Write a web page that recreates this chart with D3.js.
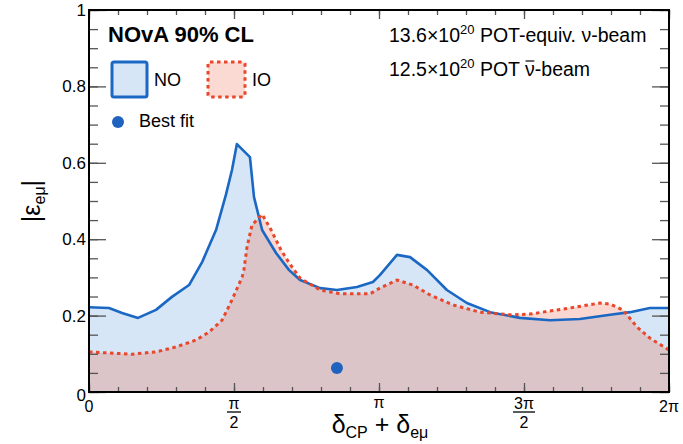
<!DOCTYPE html>
<html lang="en">
<head>
<meta charset="UTF-8">
<title>NOvA epsilon e-mu</title>
<style>
  body { margin: 0; background: #fff; }
  svg { font-family: "Liberation Sans", Arial, sans-serif; }
</style>
</head>
<body>
<svg width="683" height="444"></svg>
<script src="https://cdn.jsdelivr.net/npm/d3@7"></script>
<script>
    // x values are in units of pi
    const noX = [0, 0.069, 0.114, 0.169, 0.231, 0.286, 0.345, 0.390, 0.438, 0.472, 0.493, 0.510, 0.555, 0.569, 0.597, 0.645, 0.690, 0.728, 0.797, 0.855, 0.924, 0.979, 1.003, 1.062, 1.107, 1.166, 1.234, 1.303, 1.383, 1.486, 1.590, 1.693, 1.797, 1.866, 1.934, 2.0];
    const noY = [0.222, 0.220, 0.207, 0.194, 0.215, 0.249, 0.280, 0.340, 0.424, 0.516, 0.581, 0.649, 0.615, 0.510, 0.424, 0.364, 0.319, 0.293, 0.272, 0.267, 0.275, 0.288, 0.306, 0.359, 0.353, 0.319, 0.267, 0.233, 0.209, 0.194, 0.188, 0.191, 0.202, 0.209, 0.220, 0.220];

    const ioX = [0, 0.148, 0.231, 0.300, 0.369, 0.414, 0.459, 0.493, 0.528, 0.534, 0.545, 0.562, 0.597, 0.628, 0.662, 0.690, 0.728, 0.797, 0.866, 0.969, 1.003, 1.062, 1.117, 1.176, 1.255, 1.348, 1.452, 1.521, 1.659, 1.762, 1.797, 1.841, 1.890, 1.934, 2.0];
    const ioY = [0.105, 0.099, 0.105, 0.118, 0.136, 0.157, 0.188, 0.241, 0.301, 0.319, 0.380, 0.437, 0.465, 0.424, 0.372, 0.338, 0.298, 0.267, 0.257, 0.257, 0.272, 0.293, 0.280, 0.254, 0.228, 0.209, 0.202, 0.204, 0.220, 0.233, 0.230, 0.215, 0.170, 0.141, 0.110];

    const bestFit = [0.855, 0.063];

    const yLabels = [0, 0.2, 0.4, 0.6, 0.8, 1];
    const xLabels = [
        {v: 0, num: "0"},
        {v: 0.5, num: "\u03c0", den: "2"},
        {v: 1, num: "\u03c0"},
        {v: 1.5, num: "3\u03c0", den: "2"},
        {v: 2, num: "2\u03c0"}
    ];

    const blue = "#1b68c4", red = "#e8472b";

    const svg = d3.select("svg");
    const x = d3.scaleLinear().domain([0, 2]).range([89, 669]);
    const y = d3.scaleLinear().domain([0, 1]).range([392, 10]);

    const area = d3.area().x(d => x(d[0])).y0(y(0)).y1(d => y(d[1]));
    const line = d3.line().x(d => x(d[0])).y(d => y(d[1]));
    const no = d3.zip(noX, noY), io = d3.zip(ioX, ioY);

    svg.append("path").attr("d", area(no)).attr("fill", "#d6e6f6");
    svg.append("path").attr("d", area(io)).attr("fill", "rgba(236,108,82,0.27)");
    svg.append("path").attr("d", line(no)).attr("fill", "none")
        .attr("stroke", blue).attr("stroke-width", 2.6).attr("stroke-linejoin", "round");
    svg.append("path").attr("d", line(io)).attr("fill", "none")
        .attr("stroke", red).attr("stroke-width", 3).attr("stroke-dasharray", "3.5,3.5");

    svg.append("circle").attr("cx", x(bestFit[0])).attr("cy", y(bestFit[1]))
        .attr("r", 6).attr("fill", "#1f63bf");

    // ticks on all four sides
    const tickCol = "#555";
    const minorX = d3.range(0, 2.001, 0.1), majorX = d3.range(0, 2.001, 0.5);
    const minorY = d3.range(0, 1.001, 0.05), majorY = d3.range(0, 1.001, 0.2);
    function ticks(axis, vals, size, tr) {
        const g = svg.append("g").attr("transform", tr)
            .call(axis.tickValues(vals).tickSize(size).tickFormat(""));
        g.select(".domain").remove();
        g.selectAll("line").attr("stroke", tickCol).attr("stroke-width", 1.3);
    }
    ticks(d3.axisBottom(x), minorX, -5, `translate(0,${y(0)})`);
    ticks(d3.axisBottom(x), majorX, -9, `translate(0,${y(0)})`);
    ticks(d3.axisTop(x), minorX, -5, `translate(0,${y(1)})`);
    ticks(d3.axisTop(x), majorX, -9, `translate(0,${y(1)})`);
    ticks(d3.axisLeft(y), minorY, -9, `translate(${x(0)},0)`);
    ticks(d3.axisLeft(y), majorY, -17, `translate(${x(0)},0)`);
    ticks(d3.axisRight(y), minorY, -9, `translate(${x(2)},0)`);
    ticks(d3.axisRight(y), majorY, -17, `translate(${x(2)},0)`);

    svg.append("rect").attr("x", x(0)).attr("y", y(1))
        .attr("width", x(2) - x(0)).attr("height", y(0) - y(1))
        .attr("fill", "none").attr("stroke", "#000").attr("stroke-width", 2);

    // y tick labels
    svg.append("g").selectAll("text").data(yLabels).join("text")
        .attr("x", 86).attr("y", d => y(d) + (d === 0 ? 9 : 6))
        .attr("text-anchor", "end").attr("font-size", 17)
        .text(d => d === 0 || d === 1 ? d : d.toFixed(1));

    // x tick labels
    const xl = svg.append("g").attr("font-size", 16).attr("text-anchor", "middle");
    xLabels.forEach(d => {
        if (d.den) {
            xl.append("text").attr("x", x(d.v)).attr("y", 409).text(d.num);
            xl.append("line").attr("x1", x(d.v) - (d.num.length > 1 ? 11 : 7)).attr("x2", x(d.v) + (d.num.length > 1 ? 11 : 7))
                .attr("y1", 412).attr("y2", 412).attr("stroke", "#000").attr("stroke-width", 1.3);
            xl.append("text").attr("x", x(d.v)).attr("y", 428).text(d.den);
        } else {
            xl.append("text").attr("x", x(d.v)).attr("y", d.v === 1 ? 408 : 412).text(d.num);
        }
    });

    // axis titles
    const xt = svg.append("text").attr("x", 380).attr("y", 433)
        .attr("text-anchor", "middle").attr("font-size", 25);
    xt.append("tspan").text("\u03b4");
    xt.append("tspan").attr("font-size", 16).attr("dy", 5).text("CP");
    xt.append("tspan").attr("dy", -5).text(" + \u03b4");
    xt.append("tspan").attr("font-size", 16).attr("dy", 5).text("e\u03bc");

    const yt = svg.append("text").attr("transform", "translate(40,201) rotate(-90)")
        .attr("text-anchor", "middle").attr("font-size", 25);
    yt.append("tspan").text("|\u03b5");
    yt.append("tspan").attr("font-size", 16).attr("dy", 5).text("e\u03bc");
    yt.append("tspan").attr("dy", -5).text("|");

    // header and legend
    svg.append("text").attr("x", 108).attr("y", 42).attr("font-size", 22)
        .attr("font-weight", "bold").text("NOvA 90% CL");

    svg.append("rect").attr("x", 112).attr("y", 62).attr("width", 35).attr("height", 35).attr("rx", 2)
        .attr("fill", "#d6e6f6").attr("stroke", blue).attr("stroke-width", 3);
    svg.append("text").attr("x", 154).attr("y", 86).attr("font-size", 18).text("NO");
    svg.append("rect").attr("x", 208).attr("y", 62).attr("width", 37).attr("height", 35).attr("rx", 2)
        .attr("fill", "#fbdad3").attr("stroke", red).attr("stroke-width", 3).attr("stroke-dasharray", "3.5,3.5");
    svg.append("text").attr("x", 252).attr("y", 86).attr("font-size", 18).text("IO");
    svg.append("circle").attr("cx", 118).attr("cy", 122).attr("r", 6).attr("fill", "#1f63bf");
    svg.append("text").attr("x", 139).attr("y", 127).attr("font-size", 18).text("Best fit");

    const t1 = svg.append("text").attr("x", 389).attr("y", 42).attr("font-size", 19.5);
    t1.append("tspan").text("13.6\u00d710");
    t1.append("tspan").attr("font-size", 13).attr("dy", -8).text("20");
    t1.append("tspan").attr("dy", 8).text(" POT-equiv. \u03bd-beam");
    const t2 = svg.append("text").attr("x", 389).attr("y", 76).attr("font-size", 19.5);
    t2.append("tspan").text("12.5\u00d710");
    t2.append("tspan").attr("font-size", 13).attr("dy", -8).text("20");
    t2.append("tspan").attr("dy", 8).text(" POT \u03bd-beam");

    // bar over the antineutrino symbol
    const tn = t2.node();
    const idx = "12.5\u00d710".length + 2 + " POT ".length;
    const s = tn.getStartPositionOfChar(idx), e = tn.getEndPositionOfChar(idx);
    svg.append("line").attr("x1", s.x + 0.5).attr("x2", e.x - 0.5)
        .attr("y1", 61).attr("y2", 61).attr("stroke", "#000").attr("stroke-width", 1.2);
</script>
</body>
</html>
